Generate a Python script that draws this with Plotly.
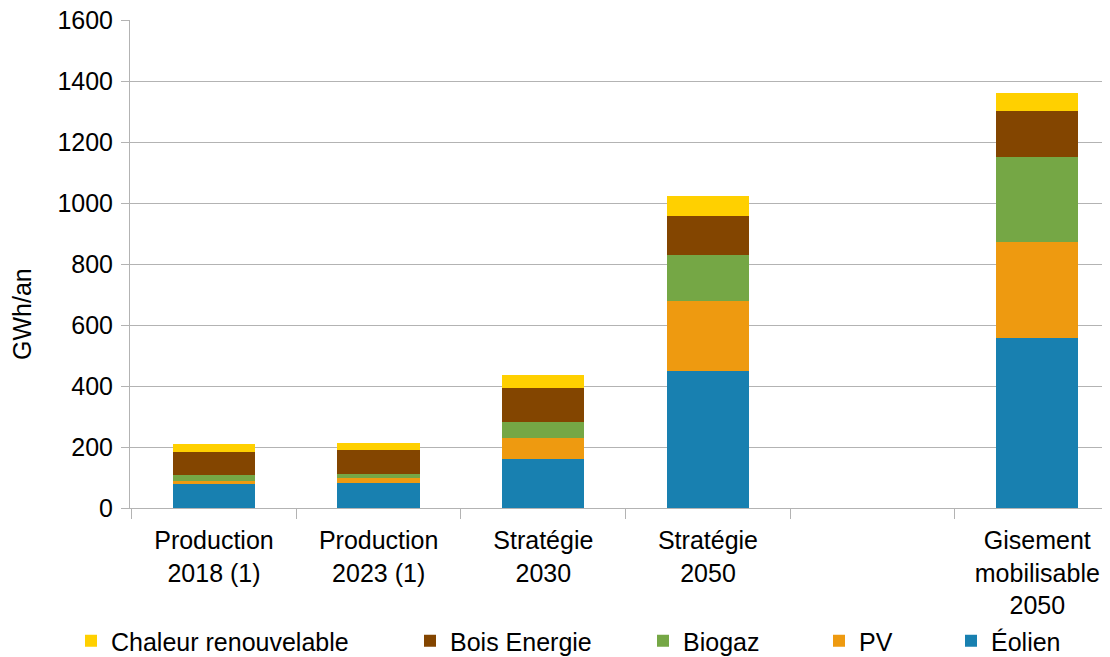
import plotly.graph_objects as go

categories = ["Production<br>2018 (1)", "Production<br>2023 (1)", "Stratégie<br>2030",
              "Stratégie<br>2050", " ", "Gisement<br>mobilisable<br>2050"]
eolien = [79, 82, 161, 449, None, 557]
pv = [10, 16, 69, 230, None, 315]
biogaz = [19, 13, 52, 151, None, 279]
bois = [76, 79, 111, 127, None, 151]
chaleur = [26, 23, 43, 66, None, 59]

series = [
    ("Éolien", eolien, "#1880B0"),
    ("PV", pv, "#EE9A10"),
    ("Biogaz", biogaz, "#75A745"),
    ("Bois Energie", bois, "#834500"),
    ("Chaleur renouvelable", chaleur, "#FFD000"),
]
# legend left positions (px, figure coords)
legend_x = {"Chaleur renouvelable": 63, "Bois Energie": 402, "Biogaz": 635,
            "PV": 811, "Éolien": 943}

FONT = dict(family="Liberation Sans, Arial, sans-serif", size=25, color="black")
W, H = 1110, 657
ML, MT, MB = 122, 12, 157
PW, PH = W - ML, H - MT - MB

fig = go.Figure()
legend_layout = {}
for i, (name, vals, color) in enumerate(series):
    lname = "legend" if i == 0 else f"legend{i+1}"
    fig.add_trace(go.Bar(x=categories, y=vals, name=name, marker_color=color,
                         marker_line_width=0, legend=lname, showlegend=True))
    legend_layout[lname] = dict(
        x=legend_x[name] / W, xref="container", xanchor="left",
        y=1 - 633 / H, yref="container", yanchor="middle",
        orientation="h", font=FONT, bgcolor="rgba(0,0,0,0)",
        borderwidth=0, itemwidth=30, visible=True,
    )

fig.update_layout(
    barmode="stack",
    bargap=0.5,
    width=W, height=H,
    showlegend=True,
    margin=dict(l=ML, r=0, t=MT, b=MB, autoexpand=False),
    paper_bgcolor="white",
    plot_bgcolor="white",
    font=FONT,
    **legend_layout,
)

fig.add_annotation(
    text="GWh/an", textangle=-90, font=FONT,
    x=(14 - ML) / PW, xref="paper", xanchor="center",
    y=(MT + PH - 306) / PH, yref="paper", yanchor="middle",
    showarrow=False,
)

fig.update_xaxes(
    type="category",
    range=[-0.51, 5.49],
    tickson="boundaries",
    ticks="outside", ticklen=10, tickcolor="#b3b3b3", tickwidth=1,
    showline=True, linecolor="#b3b3b3", linewidth=1,
    showgrid=False,
    tickfont=FONT,
    ticklabelstandoff=10,
    automargin=False,
)
fig.update_yaxes(
    range=[0, 1601],
    tickvals=[0, 200, 400, 600, 800, 1000, 1200, 1400, 1600],
    ticks="outside", ticklen=8, tickcolor="#b3b3b3", tickwidth=1,
    showline=True, linecolor="#b3b3b3", linewidth=1,
    showgrid=True, gridcolor="#b3b3b3", gridwidth=1,
    zeroline=False,
    tickfont=FONT,
    ticklabelstandoff=3,
    ticklabeloverflow="allow",
    automargin=False,
)

fig.write_html("out.html")
